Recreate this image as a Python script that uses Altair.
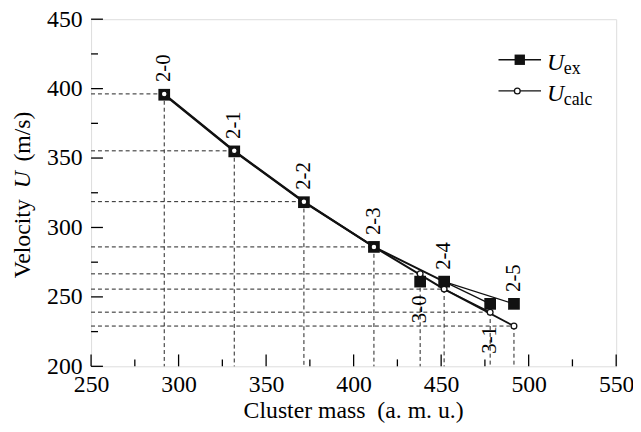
import altair as alt
import pandas as pd

# ---------------- data ----------------
labels = ["2-0", "2-1", "2-2", "2-3", "3-0", "2-4", "3-1", "2-5"]
mass = [291.8, 331.8, 371.6, 411.6, 438.0, 451.7, 478.0, 491.6]
u_ex = [395.6, 354.8, 318.2, 286.0, 261.0, 261.0, 245.0, 245.0]
u_calc = [396.2, 355.2, 318.6, 286.0, 266.6, 255.6, 239.0, 229.0]
label_below = [False, False, False, False, True, False, True, False]

# line segments (series, group, member labels, stroke width)
segments = [
    ("ex", "ex_main", ["2-0", "2-1", "2-2", "2-3", "2-4"], 2.0),
    ("ex", "ex_b1", ["2-4", "2-5"], 1.3),
    ("ex", "ex_b2", ["2-4", "3-1"], 1.3),
    ("calc", "calc_main", ["2-0", "2-1", "2-2", "2-3", "2-4"], 2.0),
    ("calc", "calc_b1", ["2-4", "2-5"], 1.8),
    ("calc", "calc_b2", ["2-4", "3-1"], 1.3),
]

x_major = [250, 300, 350, 400, 450, 500, 550]
x_minor = [275, 325, 375, 425, 475, 525]
y_major = [200, 250, 300, 350, 400, 450]
y_minor = [225, 275, 325, 375, 425]

# ---------------- tables ----------------
pts = pd.DataFrame(dict(label=labels, mass=mass, u_ex=u_ex, u_calc=u_calc,
                        below=label_below))
pts["u_top"] = pts[["u_ex", "u_calc"]].max(axis=1)
pts["u_bot"] = pts[["u_ex", "u_calc"]].min(axis=1)
pts["x0"] = 250
pts["y0"] = 200

rows = []
for series, grp, members, w in segments:
    for i, lab in enumerate(members):
        k = labels.index(lab)
        rows.append(dict(group=grp, order=i, mass=mass[k],
                         U=u_ex[k] if series == "ex" else u_calc[k], w=w))
lines = pd.DataFrame(rows)

FONT = "Liberation Serif"
W, H = 531, 351
XS = alt.Scale(domain=[250, 550], nice=False, zero=False)
YS = alt.Scale(domain=[200, 450], nice=False, zero=False)
XAX = alt.Axis(values=x_major, title="", ticks=False,
               domain=False, grid=False, labelFlush=False, labelFont=FONT,
               labelFontSize=24, labelColor="black", labelPadding=6)
YAX = alt.Axis(values=y_major, title="", ticks=False, domain=False, grid=False,
               labelFlush=False, labelFont=FONT, labelFontSize=24,
               labelColor="black", labelPadding=9)


def xq(f):
    return alt.X(f, type="quantitative", scale=XS, axis=XAX)


def yq(f):
    return alt.Y(f, type="quantitative", scale=YS, axis=YAX)


base = alt.Chart(pts)
DASH = dict(strokeDash=[4, 3], strokeWidth=1, color="#222")

hdash = base.mark_rule(**DASH).encode(x=xq("x0"), x2="mass", y=yq("u_calc"))
vdash = base.mark_rule(**DASH).encode(x=xq("mass"), y=yq("u_calc"), y2="y0")

line_layer = alt.Chart(lines).mark_line(color="#111").encode(
    x=xq("mass"), y=yq("U"), detail="group:N", order="order:Q",
    strokeWidth=alt.StrokeWidth("w:Q", scale=None))

squares = base.mark_square(filled=True, color="#111", size=140, opacity=1).encode(
    x=xq("mass"), y=yq("u_ex"))
circles = base.mark_point(shape="circle", filled=True, fill="white",
                          stroke="#111", strokeWidth=1.3, size=34,
                          opacity=1).encode(x=xq("mass"), y=yq("u_calc"))

lab_top = base.transform_filter("!datum.below").mark_text(
    font=FONT, fontSize=21, angle=270, align="left", baseline="middle",
    dx=12, color="black").encode(x=xq("mass"), y=yq("u_top"), text="label:N")
lab_bot = base.transform_filter("datum.below").mark_text(
    font=FONT, fontSize=21, angle=270, align="right", baseline="middle",
    dx=-14, color="black").encode(x=xq("mass"), y=yq("u_bot"), text="label:N")


# inward ticks
def xticks(vals, L):
    return alt.Chart(pd.DataFrame({"v": vals})).mark_rule(
        color="black", strokeWidth=1.3).encode(
        x=xq("v"), y=alt.value(H), y2=alt.value(H - L))


def yticks(vals, L):
    return alt.Chart(pd.DataFrame({"v": vals})).mark_rule(
        color="black", strokeWidth=1.3).encode(
        y=yq("v"), x=alt.value(0), x2=alt.value(L))


ticks = [xticks(x_major, 12), xticks(x_minor, 7),
         yticks(y_major, 12), yticks(y_minor, 7)]


def txt(s, x, y, size, style="normal", angle=0, align="left",
        baseline="alphabetic"):
    return alt.Chart(pd.DataFrame({"t": [s]})).mark_text(
        font=FONT, fontSize=size, fontStyle=style, angle=angle, align=align,
        baseline=baseline, color="black").encode(
        x=alt.value(x), y=alt.value(y), text="t:N")


# axis titles
titles = [
    txt("Velocity", -62, 262, 24, angle=270),
    txt("U", -62, 171, 24, style="italic", angle=270),
    txt("(m/s)", -62, 144, 24, angle=270),
    txt("Cluster mass\u00a0 (a. m. u.)", W / 2, 403, 24, align="center"),
]

# legend
one = pd.DataFrame({"a": [0]})
leg = [
    alt.Chart(one).mark_rule(color="#111", strokeWidth=1.3)
    .encode(x=alt.value(412), x2=alt.value(455), y=alt.value(41)),
    alt.Chart(one).mark_square(filled=True, color="#111", size=110, opacity=1)
    .encode(x=alt.value(433.5), y=alt.value(41)),
    alt.Chart(one).mark_rule(color="#111", strokeWidth=1.3)
    .encode(x=alt.value(412), x2=alt.value(455), y=alt.value(72.5)),
    alt.Chart(one).mark_point(shape="circle", filled=True, fill="white",
                              stroke="#111", strokeWidth=1.3, size=34,
                              opacity=1)
    .encode(x=alt.value(431), y=alt.value(72.5)),
    txt("U", 461, 51, 24, style="italic"),
    txt("ex", 478, 55, 18),
    txt("U", 461, 82.5, 24, style="italic"),
    txt("calc", 478, 86.5, 18),
]

chart = alt.layer(
    hdash, vdash, line_layer, squares, circles, lab_top, lab_bot,
    *ticks, *titles, *leg
).properties(
    width=W, height=H,
    autosize=alt.AutoSizeParams(type="none"),
    padding={"left": 84, "top": 9, "right": 17, "bottom": 56},
).configure_view(stroke="black", strokeWidth=1.5).configure(background="white")

chart.save("out.html", embed_options={"renderer": "svg", "actions": False})
